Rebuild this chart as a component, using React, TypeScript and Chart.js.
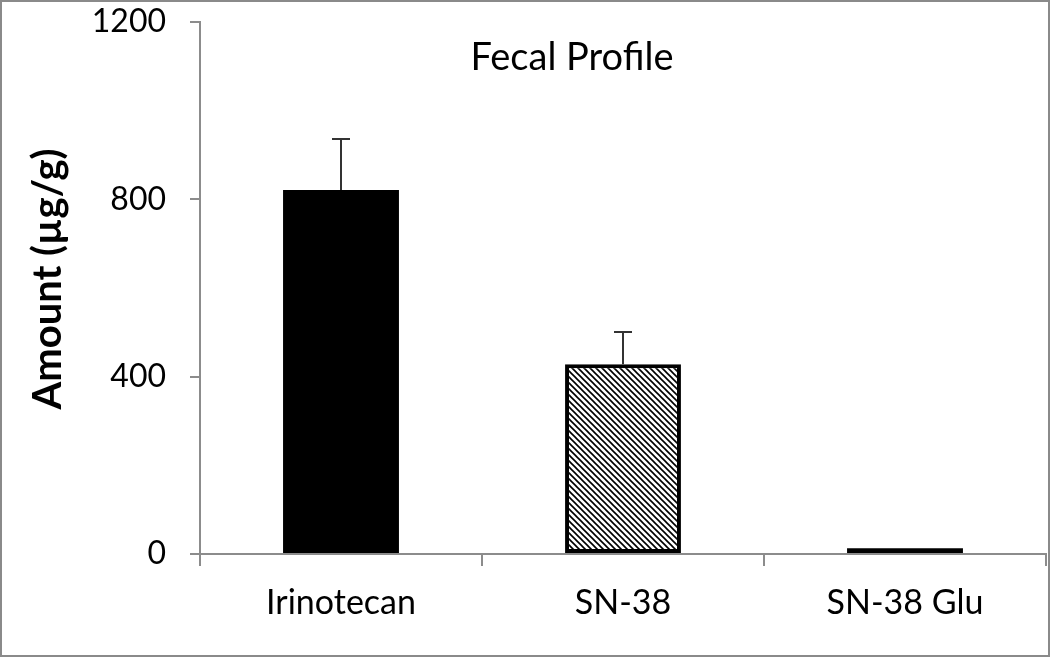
import React, { useEffect, useRef } from "react";
import { Chart, registerables } from "chart.js";

Chart.register(...registerables);

const categories = ["Irinotecan", "SN-38", "SN-38 Glu"];
const amounts = [821, 428, 13];
const errors = [115, 73, 0];
const yTicks = [0, 400, 800, 1200];
const chartTitle = "Fecal Profile";
const yTitle = "Amount (µg/g)";

const FONT = "Lato, 'Open Sans', sans-serif";

function makeHatch(): CanvasPattern | string {
  const c = document.createElement("canvas");
  c.width = 6;
  c.height = 6;
  const g = c.getContext("2d");
  if (!g) return "#888";
  g.fillStyle = "#fff";
  g.fillRect(0, 0, 6, 6);
  g.strokeStyle = "#000";
  g.lineWidth = 1.6;
  g.beginPath();
  g.moveTo(-1, -1);
  g.lineTo(7, 7);
  g.moveTo(-4, 2);
  g.lineTo(2, 8);
  g.moveTo(4, -2);
  g.lineTo(10, 4);
  g.stroke();
  const p = g.createPattern(c, "repeat");
  return p || "#888";
}

export default function App() {
  const ref = useRef<HTMLCanvasElement | null>(null);

  useEffect(() => {
    if (!ref.current) return;
    const hatch = makeHatch();

    const errorBars = {
      id: "errorBars",
      afterDatasetsDraw(chart: any) {
        const ctx = chart.ctx;
        const meta = chart.getDatasetMeta(0);
        const y = chart.scales.y;
        ctx.save();
        ctx.strokeStyle = "#333";
        ctx.lineWidth = 2;
        meta.data.forEach((bar: any, i: number) => {
          const e = errors[i];
          if (!e) return;
          const top = y.getPixelForValue(amounts[i] + e);
          const base = y.getPixelForValue(amounts[i]);
          ctx.beginPath();
          ctx.moveTo(bar.x, base);
          ctx.lineTo(bar.x, top);
          ctx.moveTo(bar.x - 9, top);
          ctx.lineTo(bar.x + 9, top);
          ctx.stroke();
        });
        ctx.restore();
      },
    };

    const texts = {
      id: "texts",
      afterDraw(chart: any) {
        const ctx = chart.ctx;
        const a = chart.chartArea;
        ctx.save();
        ctx.fillStyle = "#000";
        ctx.textAlign = "center";
        ctx.textBaseline = "middle";
        ctx.font = `38px ${FONT}`;
        ctx.fillText(chartTitle, a.left + 372, 58);
        ctx.translate(48, 279);
        ctx.rotate(-Math.PI / 2);
        ctx.font = `bold 40px ${FONT}`;
        ctx.fillText(yTitle, 0, 0);
        ctx.restore();
      },
    };

    const chart = new Chart(ref.current, {
      type: "bar",
      data: {
        labels: categories,
        datasets: [
          {
            data: amounts,
            backgroundColor: ["#000", hatch as any, "#000"],
            borderColor: ["#000", "#000", "#000"],
            borderWidth: [0, 4, 0],
            borderSkipped: false,
            barPercentage: 0.411,
            categoryPercentage: 1,
          },
        ],
      },
      options: {
        animation: false,
        responsive: false,
        devicePixelRatio: 1,
        layout: { padding: { left: 0, right: 4, top: 22, bottom: 0 } },
        plugins: {
          legend: { display: false },
          tooltip: { enabled: false },
          title: { display: false },
        },
        scales: {
          x: {
            offset: true,
            grid: {
              offset: true,
              drawOnChartArea: false,
              drawTicks: true,
              tickLength: 12,
              color: "#8c8c8c",
              lineWidth: 2,
            },
            border: { display: true, color: "#8c8c8c", width: 2 },
            ticks: {
              color: "#000",
              font: { family: FONT, size: 34 },
              padding: 17,
            },
            afterFit(scale: any) {
              scale.height = 103;
              scale.paddingLeft = 0;
              scale.paddingRight = 0;
            },
          },
          y: {
            min: 0,
            max: 1200,
            afterBuildTicks(scale: any) {
              scale.ticks = yTicks.map((v) => ({ value: v }));
            },
            grid: {
              drawOnChartArea: false,
              drawTicks: true,
              tickLength: 10,
              color: "#8c8c8c",
              lineWidth: 2,
            },
            border: { display: true, color: "#8c8c8c", width: 2 },
            ticks: {
              color: "#000",
              font: { family: FONT, size: 32 },
              padding: 24,
              callback: (v: any) => String(v),
            },
            afterFit(scale: any) {
              scale.width = 200;
              scale.paddingTop = 0;
              scale.paddingBottom = 0;
            },
          },
        },
      },
      plugins: [errorBars, texts],
    });
    return () => chart.destroy();
  }, []);

  return (
    <div style={{ position: "absolute", left: 0, top: 0, width: 1050, height: 657, background: "#fff" }}>
      <canvas ref={ref} width={1050} height={657} style={{ display: "block" }} />
      <div
        style={{
          position: "absolute",
          left: 0,
          top: 0,
          width: 1050,
          height: 657,
          boxSizing: "border-box",
          border: "2px solid #8a8a8a",
          pointerEvents: "none",
        }}
      />
    </div>
  );
}
